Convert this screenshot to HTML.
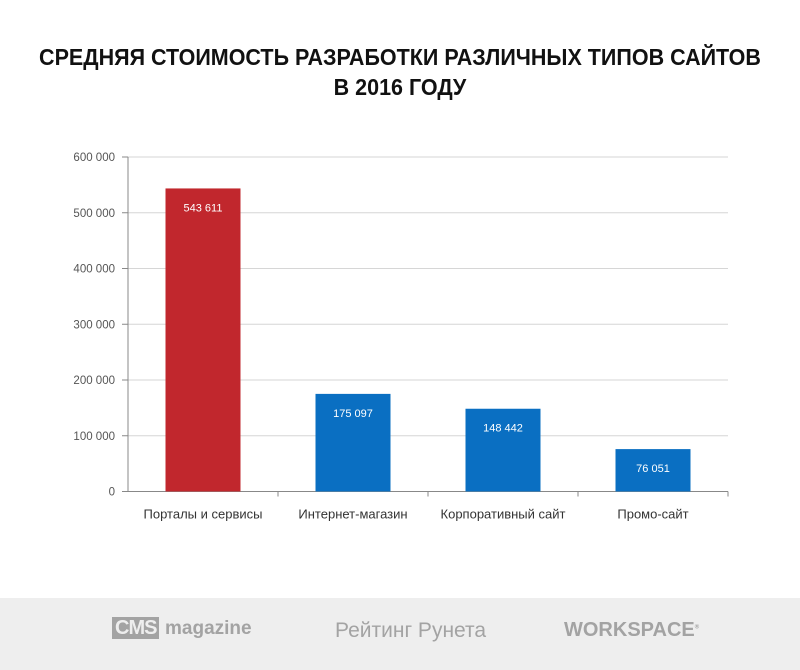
<!DOCTYPE html>
<html><head><meta charset="utf-8"><style>
body{margin:0;width:800px;height:670px;background:#fff;font-family:"Liberation Sans",sans-serif;position:relative;overflow:hidden}
#title{position:absolute;top:42px;left:0;width:800px;text-align:center;font-weight:bold;font-size:23px;line-height:30px;color:#111;transform:scaleX(0.935);transform-origin:400px 0}
#footer{position:absolute;left:0;top:598px;width:800px;height:72px;background:#eeeeee}
.logo{position:absolute;color:#a3a3a3;font-weight:bold}
</style></head><body>
<div id="title">СРЕДНЯЯ СТОИМОСТЬ РАЗРАБОТКИ РАЗЛИЧНЫХ ТИПОВ САЙТОВ<br>В 2016 ГОДУ</div>
<svg id="chart" width="800" height="600" style="position:absolute;left:0;top:0"></svg>
<div id="footer">
 <div class="logo" style="left:112px;top:19px;font-size:20px"><span style="background:#a3a3a3;color:#eee;padding:0 3px;letter-spacing:-1px">CMS</span> <span style="font-size:19px">magazine</span></div>
 <div class="logo" style="left:335px;top:21px;font-size:21px;font-weight:normal">Рейтинг Рунета</div>
 <div class="logo" style="left:564px;top:21px;font-size:20px">WORKSPACE<sup style="font-size:6px">®</sup></div>
</div>
<script>
const categories=["Порталы и сервисы","Интернет-магазин","Корпоративный сайт","Промо-сайт"];
const values=[543611,175097,148442,76051];
const labels=["543 611","175 097","148 442","76 051"];
const colors=["#c1272d","#0a6fc2","#0a6fc2","#0a6fc2"];
const ticks=[0,100000,200000,300000,400000,500000,600000];
const tickLabels=["0","100 000","200 000","300 000","400 000","500 000","600 000"];
const svg=document.getElementById('chart');const NS='http://www.w3.org/2000/svg';
const x0=128,x1=728,y0=491.5,y1=157,max=600000;
const y=v=>y0-(v/max)*(y0-y1);
const band=(x1-x0)/categories.length;
function mk(t,a,txt){const e=document.createElementNS(NS,t);for(const k in a)e.setAttribute(k,a[k]);if(txt!==undefined)e.textContent=txt;svg.appendChild(e);return e;}
ticks.forEach((t,i)=>{
 if(t>0){const g=mk('line',{x1:x0,x2:x1,y1:y(t),y2:y(t),stroke:'#d6d6d6','stroke-width':1});
 
 }
 const tk=mk('line',{x1:x0-6,x2:x0,y1:y(t),y2:y(t),stroke:'#888'});
 
 
 const l=mk('text',{x:x0-13,y:y(t)+4,'text-anchor':'end','font-size':11.5,fill:'#555','font-family':'Liberation Sans, sans-serif'},tickLabels[i]);
 
 
});
const ax=mk('line',{x1:x0,x2:x0,y1:y1,y2:y0,stroke:'#888'});


const bx=mk('line',{x1:x0,x2:x1,y1:y0,y2:y0,stroke:'#888'});


categories.forEach((c,i)=>{
 const cx=x0+band*(i+0.5),w=75;
 const tk=mk('line',{x1:x0+band*(i+1),x2:x0+band*(i+1),y1:y0,y2:y0+5,stroke:'#888'});
 
 
 const r=mk('rect',{x:cx-w/2,y:y(values[i]),width:w,height:y0-y(values[i]),fill:colors[i]});
 
 
 const v=mk('text',{x:cx,y:y(values[i])+23,'text-anchor':'middle','font-size':11,fill:'#fff','font-family':'Liberation Sans, sans-serif'},labels[i]);
 
 
 const t=mk('text',{x:cx,y:y0+27,'text-anchor':'middle','font-size':13,fill:'#333','font-family':'Liberation Sans, sans-serif'},c);
 
 
});
</script>
</body></html>
